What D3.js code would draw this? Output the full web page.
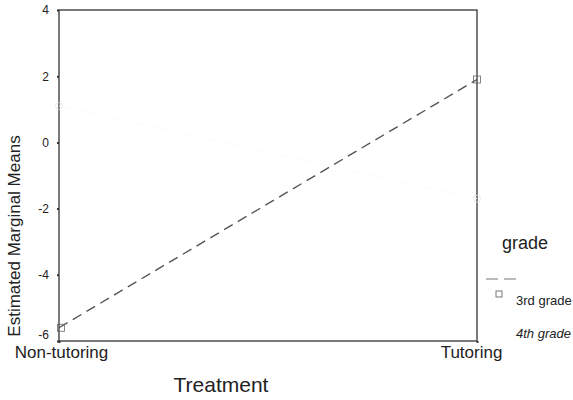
<!DOCTYPE html>
<html><head><meta charset="utf-8">
<script src="https://cdn.jsdelivr.net/npm/d3@7"></script>
<style>body{margin:0;background:#fff}svg{display:block}text{font-family:Arial,"Liberation Sans",sans-serif;fill:#222}</style>
</head><body><svg width="573" height="400"></svg>
<script>
const categories = ["Non-tutoring", "Tutoring"];
const grades = ["3rd grade", "4th grade"];
const values3rd = [-5.6, 1.9];
const values4th = [1.1, -1.7];
const yTicks = [4, 2, 0, -2, -4, -6];

const svg = d3.select("svg");
const m = {l: 59, r: 477, t: 10, b: 341};
const x = d3.scalePoint().domain(categories).range([m.l, m.r]);
const y = d3.scaleLinear().domain([-6, 4]).range([m.b, m.t]);

// frame
svg.append("rect").attr("x", m.l).attr("y", m.t).attr("width", m.r - m.l).attr("height", m.b - m.t)
  .attr("fill", "none").attr("stroke", "#333").attr("stroke-width", 1.3);

// y axis
const ya = svg.append("g").attr("transform", `translate(${m.l},0)`)
  .call(d3.axisLeft(y).tickValues(yTicks).tickSize(2).tickPadding(8).tickFormat(d => String(d)));
ya.select(".domain").remove();
ya.selectAll("line").attr("stroke", "#333").attr("stroke-width", 2);
ya.selectAll("text").style("font-size", "12px").style("fill", "#222")
  .attr("dy", d => d === -6 ? "-0.25em" : "0.32em");

// x axis
const xa = svg.append("g").attr("transform", `translate(0,${m.b})`)
  .call(d3.axisBottom(x).tickSize(2).tickPadding(3));
xa.select(".domain").remove();
xa.selectAll("line").attr("stroke", "#333").attr("stroke-width", 2);
xa.selectAll("text").style("font-size", "17px").style("fill", "#222")
  .attr("dx", (d, i) => i === 0 ? 2 : -6);

// 4th grade (faded out in the print)
const line = d3.line().x((d, i) => x(categories[i])).y(d => y(d));
svg.append("path").datum(values4th).attr("d", line).attr("fill", "none")
  .attr("stroke", "#fbfbfb").attr("stroke-width", 1);
svg.selectAll(".m4").data(values4th).enter().append("circle")
  .attr("cx", (d, i) => x(categories[i])).attr("cy", d => y(d)).attr("r", 3.5)
  .attr("fill", "none").attr("stroke", "#e2e2e2").attr("stroke-width", 0.7);

// 3rd grade dashed
svg.append("path").datum(values3rd).attr("d", line).attr("fill", "none")
  .attr("stroke", "#555").attr("stroke-width", 1.4).attr("stroke-dasharray", "10,6");
svg.selectAll(".m3").data(values3rd).enter().append("rect")
  .attr("x", (d, i) => x(categories[i]) - 3.5 + (i === 0 ? 2 : 0)).attr("y", d => y(d) - 3.5)
  .attr("width", 7).attr("height", 7).attr("fill", "none").attr("stroke", "#666").attr("stroke-width", 0.8);

// axis titles
svg.append("text").attr("x", 221).attr("y", 392).attr("text-anchor", "middle")
  .style("font-size", "21px").text("Treatment");
svg.append("text").attr("transform", "translate(20,236) rotate(-90)").attr("text-anchor", "middle")
  .style("font-size", "17px").text("Estimated Marginal Means");

// legend
const lg = svg.append("g");
lg.append("text").attr("x", 502).attr("y", 249).style("font-size", "18px").text("grade");
lg.append("line").attr("x1", 486).attr("x2", 521).attr("y1", 279).attr("y2", 279)
  .attr("stroke", "#777").attr("stroke-width", 1).attr("stroke-dasharray", "12,6");
lg.append("rect").attr("x", 496).attr("y", 291).attr("width", 6).attr("height", 6)
  .attr("fill", "none").attr("stroke", "#555").attr("stroke-width", 0.8);
lg.selectAll(".lt").data(grades).enter().append("text")
  .attr("x", 516).attr("y", (d, i) => 305 + i * 33)
  .style("font-size", "13px").style("font-style", (d, i) => i === 1 ? "italic" : "normal").text(d => d);
</script></body></html>
